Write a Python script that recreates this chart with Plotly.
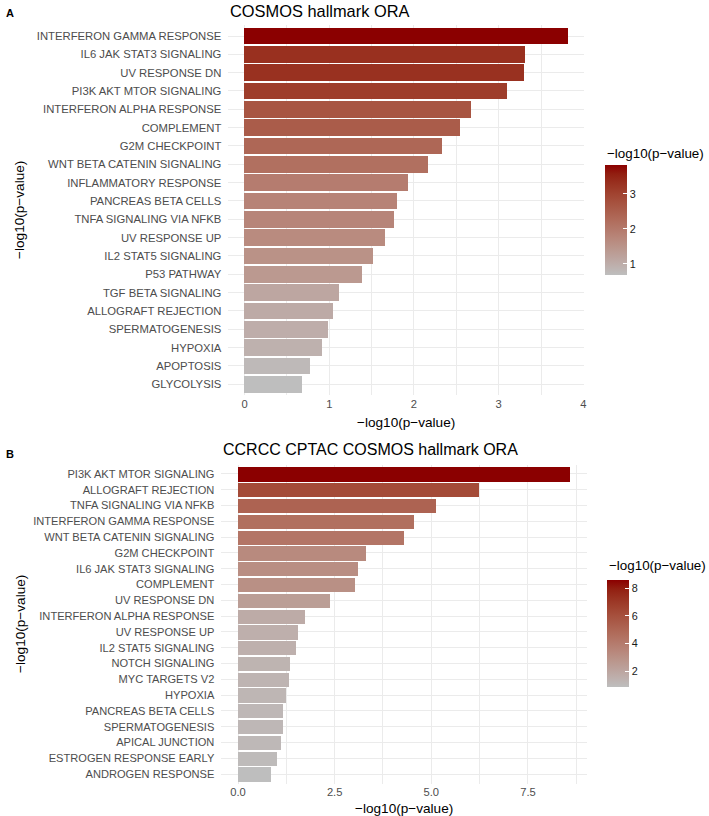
import plotly.graph_objects as go

# ---------------- data ----------------
top_terms = [
    "INTERFERON GAMMA RESPONSE", "IL6 JAK STAT3 SIGNALING", "UV RESPONSE DN",
    "PI3K AKT MTOR SIGNALING", "INTERFERON ALPHA RESPONSE", "COMPLEMENT",
    "G2M CHECKPOINT", "WNT BETA CATENIN SIGNALING", "INFLAMMATORY RESPONSE",
    "PANCREAS BETA CELLS", "TNFA SIGNALING VIA NFKB", "UV RESPONSE UP",
    "IL2 STAT5 SIGNALING", "P53 PATHWAY", "TGF BETA SIGNALING",
    "ALLOGRAFT REJECTION", "SPERMATOGENESIS", "HYPOXIA", "APOPTOSIS", "GLYCOLYSIS",
]
top_vals = [3.82, 3.31, 3.30, 3.10, 2.68, 2.55, 2.34, 2.17, 1.93, 1.80,
            1.765, 1.66, 1.525, 1.39, 1.125, 1.045, 0.99, 0.92, 0.78, 0.68]

bot_terms = [
    "PI3K AKT MTOR SIGNALING", "ALLOGRAFT REJECTION", "TNFA SIGNALING VIA NFKB",
    "INTERFERON GAMMA RESPONSE", "WNT BETA CATENIN SIGNALING", "G2M CHECKPOINT",
    "IL6 JAK STAT3 SIGNALING", "COMPLEMENT", "UV RESPONSE DN",
    "INTERFERON ALPHA RESPONSE", "UV RESPONSE UP", "IL2 STAT5 SIGNALING",
    "NOTCH SIGNALING", "MYC TARGETS V2", "HYPOXIA", "PANCREAS BETA CELLS",
    "SPERMATOGENESIS", "APICAL JUNCTION", "ESTROGEN RESPONSE EARLY", "ANDROGEN RESPONSE",
]
bot_vals = [8.60, 6.25, 5.13, 4.56, 4.30, 3.31, 3.11, 3.04, 2.38, 1.74,
            1.56, 1.52, 1.35, 1.32, 1.25, 1.18, 1.17, 1.13, 1.01, 0.87]

top_xticks = [0, 1, 2, 3, 4]
bot_xticks = [0, 2.5, 5, 7.5]
top_cb_ticks = [1, 2, 3]
bot_cb_ticks = [2, 4, 6, 8]

top_title = "COSMOS hallmark ORA"
bot_title = "CCRCC CPTAC COSMOS hallmark ORA"
axis_label = "\u2212log10(p\u2212value)"

# ---------------- colours (Lab interpolation like ggplot) ----------------
LOW = (190, 190, 190)   # grey
HIGH = (139, 0, 0)      # darkred


def _lin(c):
    c = c / 255.0
    return c / 12.92 if c <= 0.04045 else ((c + 0.055) / 1.055) ** 2.4


def _gam(c):
    c = 12.92 * c if c <= 0.0031308 else 1.055 * c ** (1 / 2.4) - 0.055
    return max(0, min(255, round(c * 255)))


def rgb2lab(rgb):
    r, g, b = (_lin(v) for v in rgb)
    x = (0.4124 * r + 0.3576 * g + 0.1805 * b) / 0.95047
    y = (0.2126 * r + 0.7152 * g + 0.0722 * b) / 1.0
    z = (0.0193 * r + 0.1192 * g + 0.9505 * b) / 1.08883
    f = lambda t: t ** (1 / 3) if t > 0.008856 else 7.787 * t + 16 / 116
    fx, fy, fz = f(x), f(y), f(z)
    return (116 * fy - 16, 500 * (fx - fy), 200 * (fy - fz))


def lab2rgb(lab):
    L, a, b = lab
    fy = (L + 16) / 116
    fx = fy + a / 500
    fz = fy - b / 200
    finv = lambda t: t ** 3 if t ** 3 > 0.008856 else (t - 16 / 116) / 7.787
    x, y, z = finv(fx) * 0.95047, finv(fy), finv(fz) * 1.08883
    r = 3.2406 * x - 1.5372 * y - 0.4986 * z
    g = -0.9689 * x + 1.8758 * y + 0.0415 * z
    bb = 0.0557 * x - 0.2040 * y + 1.0570 * z
    return tuple(_gam(max(0.0, v)) for v in (r, g, bb))


lab_lo, lab_hi = rgb2lab(LOW), rgb2lab(HIGH)
colorscale = []
N = 12
for i in range(N + 1):
    t = i / N
    lab = tuple(lab_lo[k] + (lab_hi[k] - lab_lo[k]) * t for k in range(3))
    r, g, b = lab2rgb(lab)
    colorscale.append([t, f"rgb({r},{g},{b})"])

# ---------------- layout geometry ----------------
W, H = 709, 816
FONT = "Liberation Sans, Arial, Helvetica, sans-serif"


def px(x):
    return x / W


def py(y):
    return 1 - y / H


fig = go.Figure()

fig.add_trace(go.Bar(
    x=top_vals, y=top_terms, orientation="h", width=0.9,
    marker=dict(color=top_vals, coloraxis="coloraxis", line=dict(width=0)),
    xaxis="x", yaxis="y", showlegend=False,
    hovertemplate="%{y}: %{x:.2f}<extra></extra>",
))
fig.add_trace(go.Bar(
    x=bot_vals, y=bot_terms, orientation="h", width=0.9,
    marker=dict(color=bot_vals, coloraxis="coloraxis2", line=dict(width=0)),
    xaxis="x2", yaxis="y2", showlegend=False,
    hovertemplate="%{y}: %{x:.2f}<extra></extra>",
))

grid_major = "#EBEBEB"
tick_font = dict(family=FONT, size=11.2, color="#4D4D4D")

common_x = dict(
    showline=False, zeroline=False, ticks="", showgrid=True,
    gridcolor=grid_major, gridwidth=1.1, tickfont=tick_font,
)
common_y = dict(
    showline=False, zeroline=False, ticks="", showgrid=True,
    gridcolor=grid_major, gridwidth=1.1, type="category",
    categoryorder="array", ticklabelstandoff=6,
)

top_max = max(top_vals)
bot_max = max(bot_vals)

fig.update_layout(
    width=W, height=H,
    margin=dict(l=0, r=0, t=0, b=0),
    paper_bgcolor="white", plot_bgcolor="white",
    font=dict(family=FONT, color="black"),
    bargap=0,
    xaxis=dict(
        common_x, domain=[px(229), px(586)], anchor="y",
        range=[-0.05 * top_max, top_max * 1.05],
        tickvals=top_xticks, ticktext=[str(v) for v in top_xticks],
        minor=dict(dtick=0.5, tick0=0, showgrid=True, gridcolor=grid_major, gridwidth=0.55),
    ),
    yaxis=dict(
        common_y, domain=[py(395.3), py(25)], anchor="x",
        categoryarray=list(reversed(top_terms)),
        range=[-0.6, len(top_terms) - 0.4],
        tickfont=dict(family=FONT, size=11.3, color="#4D4D4D"),
    ),
    xaxis2=dict(
        common_x, domain=[px(222), px(588.8)], anchor="y2",
        range=[-0.05 * bot_max, bot_max * 1.05],
        tickvals=bot_xticks, ticktext=[f"{v:.1f}" for v in bot_xticks],
        minor=dict(dtick=1.25, tick0=0, showgrid=True, gridcolor=grid_major, gridwidth=0.55),
    ),
    yaxis2=dict(
        common_y, domain=[py(783.5), py(464.5)], anchor="x2",
        categoryarray=list(reversed(bot_terms)),
        range=[-0.6, len(bot_terms) - 0.4],
        tickfont=dict(family=FONT, size=11.1, color="#4D4D4D"),
    ),
    coloraxis=dict(
        colorscale=colorscale, cmin=min(top_vals), cmax=top_max,
        colorbar=dict(
            x=px(607), xanchor="left", xpad=0, ypad=0,
            y=py(220), yanchor="middle", len=110, lenmode="pixels",
            thickness=22, thicknessmode="pixels", outlinewidth=0,
            tickvals=top_cb_ticks, ticks="inside", ticklen=4, tickcolor="white",
            tickfont=dict(family=FONT, size=10.8, color="#1A1A1A"),
        ),
    ),
    coloraxis2=dict(
        colorscale=colorscale, cmin=min(bot_vals), cmax=bot_max,
        colorbar=dict(
            x=px(609), xanchor="left", xpad=0, ypad=0,
            y=py(633.5), yanchor="middle", len=107, lenmode="pixels",
            thickness=22, thicknessmode="pixels", outlinewidth=0,
            tickvals=bot_cb_ticks, ticks="inside", ticklen=4, tickcolor="white",
            tickfont=dict(family=FONT, size=10.8, color="#1A1A1A"),
        ),
    ),
)

ann = []


def add_text(text, x, y, size, xanchor="left", yanchor="middle", angle=0, bold=False, color="black"):
    ann.append(dict(
        text=f"<b>{text}</b>" if bold else text, x=px(x), y=py(y),
        xref="paper", yref="paper", xanchor=xanchor, yanchor=yanchor,
        showarrow=False, textangle=angle,
        font=dict(family=FONT, size=size, color=color),
    ))


# panel tags
add_text("A", 4, 13, 11, bold=True)
add_text("B", 4, 454, 11, bold=True)
# panel titles
add_text(top_title, 228.5, 11, 16.4)
add_text(bot_title, 221.5, 449, 16.0)
# x axis titles
add_text(axis_label, 407, 422, 13.6, xanchor="center")
add_text(axis_label, 405, 808, 13.6, xanchor="center")
# y axis titles
add_text(axis_label, 20, 210, 13.6, xanchor="center", angle=-90)
add_text(axis_label, 20, 624, 13.6, xanchor="center", angle=-90)
# colour bar titles
add_text(axis_label, 606.5, 153, 13.4)
add_text(axis_label, 608.5, 565, 13.4)

fig.update_layout(annotations=ann)

fig.write_html(
    "out.html",
    config={"displayModeBar": False},
    post_script="document.body.style.margin='0px';document.body.style.overflow='hidden';",
)
